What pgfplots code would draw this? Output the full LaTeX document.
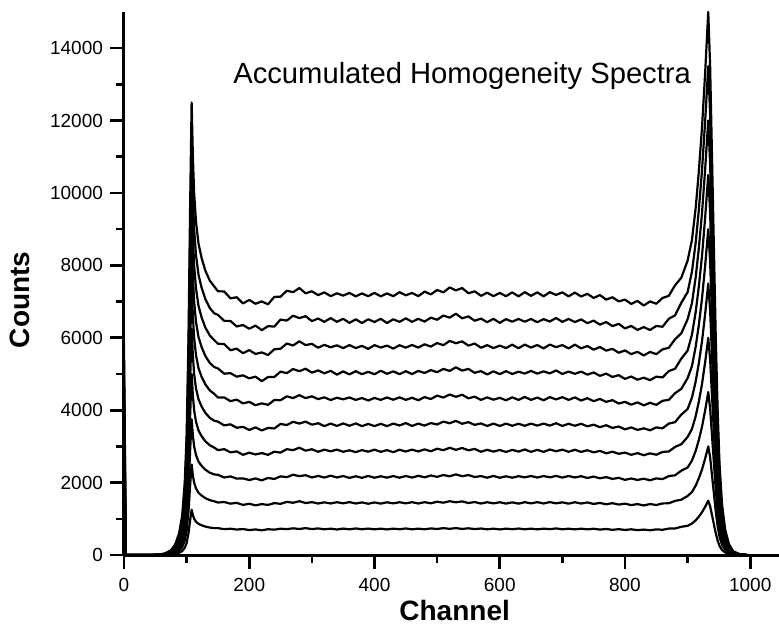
\documentclass[border=0pt]{standalone}
\usepackage{pgfplots}
\usepackage{pgfplotstable}
\pgfplotsset{compat=1.18}
\usepackage{fontspec}
\setmainfont{Liberation Sans}

\pgfplotstableread{
x y1 y2 y3 y4 y5 y6 y7 y8 y9 y10
0 586 1172 1758 2344 2930 3516 4102 4688 5274 5860
3 0 0 0 0 0 0 0 0 0 0
20 0 0 0 0 0 0 0 0 0 0
45 0 1 1 1 2 2 2 2 3 3
55 1 2 3 4 5 6 7 8 9 10
65 4 8 12 16 20 24 28 32 36 40
75 13 26 39 52 65 78 91 104 117 130
82 30 60 90 120 150 180 210 240 270 300
88 60 120 180 240 300 360 420 480 540 600
93 110 220 330 440 550 660 770 880 990 1100
97 200 400 600 800 1000 1200 1400 1600 1800 2000
100 330 660 990 1320 1650 1980 2310 2640 2970 3300
103 600 1200 1800 2400 3000 3600 4200 4800 5400 6000
105.5 950 1900 2850 3800 4750 5700 6650 7600 8550 9500
108 1250 2500 3750 5000 6250 7500 8750 10000 11250 12500
110 1100 2200 3300 4400 5500 6600 7700 8800 9900 11000
112 1000 2000 3000 4000 5000 6000 7000 8000 9000 10000
115 920 1840 2760 3680 4600 5520 6440 7360 8280 9200
119 860 1720 2580 3440 4300 5160 6020 6880 7740 8600
124 820 1640 2460 3280 4100 4920 5740 6560 7380 8200
130 785 1570 2355 3140 3925 4710 5495 6280 7065 7850
137 758 1516 2274 3032 3790 4548 5306 6064 6822 7580
144 742 1484 2226 2968 3710 4452 5194 5936 6678 7420
150 742 1449 2216 2898 3685 4352 5154 5836 6633 7285
160 714 1464 2141 2923 3580 4352 5009 5826 6468 7280
170 726 1418 2172 2836 3610 4249 5023 5657 6466 7090
180 703 1441 2109 2862 3515 4293 4926 5699 6312 7120
190 717 1384 2116 2768 3540 4187 4964 5576 6353 6950
200 690 1415 2070 2825 3455 4230 4880 5660 6250 7045
210 706 1371 2114 2777 3525 4138 4926 5554 6337 6940
220 682 1406 2062 2816 3440 4189 4803 5597 6211 7005
230 712 1384 2129 2767 3510 4148 4916 5524 6322 6925
240 700 1434 2100 2854 3495 4281 4917 5683 6309 7130
250 726 1414 2173 2829 3620 4276 5067 5698 6504 7135
260 714 1468 2150 2924 3590 4384 5023 5842 6476 7300
270 737 1443 2217 2896 3680 4334 5138 5787 6611 7260
280 719 1487 2178 2964 3630 4416 5077 5903 6544 7375
290 743 1436 2204 2882 3685 4333 5146 5799 6597 7230
300 716 1460 2142 2921 3600 4384 5038 5832 6461 7285
310 734 1422 2184 2853 3640 4307 5099 5726 6533 7180
320 710 1455 2140 2910 3560 4355 5020 5805 6440 7255
330 727 1424 2191 2864 3630 4281 5087 5738 6544 7150
340 705 1458 2142 2911 3565 4344 4983 5792 6441 7230
350 730 1428 2182 2852 3635 4300 5070 5715 6525 7165
360 710 1461 2129 2892 3570 4353 4991 5799 6412 7240
370 733 1423 2175 2841 3635 4284 5078 5717 6511 7145
380 711 1452 2131 2898 3560 4337 4994 5776 6408 7225
390 730 1416 2184 2854 3620 4268 5061 5694 6512 7150
400 709 1452 2135 2911 3560 4339 4993 5797 6436 7240
410 728 1420 2175 2850 3625 4285 5090 5730 6525 7145
420 706 1456 2136 2897 3560 4353 5006 5784 6407 7225
430 729 1426 2182 2841 3630 4289 5073 5702 6511 7150
440 712 1458 2135 2908 3578 4355 4995 5795 6440 7260
450 733 1427 2183 2859 3645 4286 5077 5728 6539 7175
460 709 1460 2139 2911 3565 4344 4998 5802 6441 7240
470 728 1422 2188 2860 3630 4275 5085 5730 6525 7150
480 710 1459 2146 2918 3575 4362 5029 5821 6448 7275
490 734 1428 2197 2866 3645 4309 5108 5757 6556 7200
500 719 1472 2159 2936 3605 4402 5049 5856 6498 7320
510 742 1445 2210 2895 3685 4350 5140 5795 6615 7255
520 723 1486 2174 2962 3640 4433 5086 5914 6557 7390
530 743 1455 2227 2905 3705 4370 5185 5850 6665 7310
540 720 1482 2176 2956 3625 4427 5094 5901 6538 7375
550 738 1436 2209 2892 3670 4328 5141 5784 6592 7230
560 716 1463 2154 2931 3595 4374 5033 5842 6471 7285
570 732 1422 2180 2852 3635 4285 5080 5725 6530 7160
580 709 1458 2135 2906 3565 4354 4988 5797 6431 7245
590 728 1426 2185 2855 3630 4290 5075 5715 6525 7150
600 706 1458 2134 2902 3565 4343 4996 5784 6412 7240
610 729 1420 2175 2846 3630 4274 5078 5717 6516 7150
620 712 1455 2135 2905 3570 4355 5000 5810 6445 7255
630 731 1418 2177 2856 3625 4284 5063 5712 6521 7145
640 711 1460 2145 2916 3570 4366 5012 5813 6444 7260
650 728 1425 2182 2850 3630 4285 5085 5730 6520 7160
660 708 1460 2140 2905 3575 4350 5010 5800 6430 7255
670 729 1423 2182 2848 3630 4274 5073 5707 6516 7145
680 713 1462 2145 2914 3575 4361 5017 5813 6449 7260
690 734 1426 2186 2866 3640 4297 5099 5741 6548 7185
700 710 1455 2138 2910 3565 4360 5000 5800 6440 7255
710 727 1418 2182 2851 3625 4284 5068 5707 6521 7145
720 708 1458 2142 2908 3570 4355 5005 5810 6435 7250
730 728 1421 2176 2847 3625 4268 5066 5709 6507 7140
740 708 1452 2128 2894 3555 4331 4982 5773 6404 7215
750 726 1410 2167 2836 3600 4249 5043 5672 6476 7100
760 702 1439 2118 2876 3530 4312 4949 5746 6363 7180
770 718 1400 2152 2810 3585 4230 5010 5645 6435 7055
780 695 1432 2101 2853 3510 4277 4919 5696 6323 7120
790 714 1393 2132 2796 3550 4184 4968 5587 6386 7005
800 692 1420 2075 2830 3470 4230 4865 5650 6260 7055
810 710 1378 2114 2767 3525 4153 4931 5549 6327 6935
820 686 1407 2073 2814 3455 4216 4842 5613 6219 7020
830 702 1368 2107 2756 3500 4134 4898 5512 6296 6890
840 683 1408 2065 2808 3445 4205 4830 5610 6215 7005
850 708 1381 2116 2770 3525 4148 4926 5549 6327 6940
860 697 1425 2097 2845 3500 4260 4905 5680 6305 7100
870 730 1428 2180 2860 3630 4285 5080 5725 6525 7160
880 732 1495 2202 2985 3670 4470 5145 5960 6620 7450
890 780 1528 2330 3060 3880 4590 5425 6125 6970 7660
900 805 1630 2415 3260 4030 4885 5645 6510 7260 8130
907 870 1740 2610 3480 4350 5220 6090 6960 7830 8700
913 960 1920 2880 3840 4800 5760 6720 7680 8640 9600
918 1060 2120 3180 4240 5300 6360 7420 8480 9540 10600
923 1180 2360 3540 4720 5900 7080 8260 9440 10620 11800
928 1330 2660 3990 5320 6650 7980 9310 10640 11970 13300
933 1500 3000 4500 6000 7500 9000 10500 12000 13500 15000
936 1350 2700 4050 5400 6750 8100 9450 10800 12150 13500
939 1100 2200 3300 4400 5500 6600 7700 8800 9900 11000
942 850 1700 2550 3400 4250 5100 5950 6800 7650 8500
945 600 1200 1800 2400 3000 3600 4200 4800 5400 6000
948 400 800 1200 1600 2000 2400 2800 3200 3600 4000
951 250 500 750 1000 1250 1500 1750 2000 2250 2500
955 140 280 420 560 700 840 980 1120 1260 1400
960 70 140 210 280 350 420 490 560 630 700
966 30 60 90 120 150 180 210 240 270 300
973 10 20 30 40 50 60 70 80 90 100
982 3 6 9 12 15 18 21 24 27 30
995 0 0 0 0 0 0 0 0 0 0
}\spectra

\begin{document}
\begin{tikzpicture}
\begin{axis}[
  scale only axis,
  width=327.5pt, height=271.5pt,
  xmin=0, xmax=1046, ymin=0, ymax=15000,
  axis x line*=bottom, axis y line*=left,
  axis line style={-, line width=1.5pt},
  xtick={0,200,...,1000}, ytick={0,2000,...,14000},
  minor xtick={100,300,...,900}, minor ytick={1000,3000,...,13000},
  scaled y ticks=false, scaled x ticks=false,
  tick align=outside,
  major tick length=7pt, minor tick length=4pt,
  tick style={black, line width=1.3pt},
  /pgf/number format/assume math mode=true,
  /pgf/number format/set thousands separator={},
  ticklabel style={font=\fontsize{9.5}{11}\selectfont},
  xticklabel style={yshift=-1pt},
  clip=false,
]
\pgfplotsinvokeforeach{1,...,10}{\addplot[black, line width=1.1pt, line join=round, no marks] table[x=x, y=y#1]{\spectra};}
\node[font=\fontsize{14.6}{17}\selectfont] at (axis cs:540,13220) {Accumulated Homogeneity Spectra};
\node[rotate=90, font=\fontsize{14}{16}\selectfont\bfseries] at ([xshift=-52pt]axis cs:0,7050) {Counts};
\node[font=\fontsize{14}{16}\selectfont\bfseries] at ([yshift=-27.5pt]axis cs:528,0) {Channel};
\coordinate (bl) at (rel axis cs:0,0);
\coordinate (tr) at (rel axis cs:1,1);
\end{axis}
\pgfresetboundingbox
\path[use as bounding box] ([xshift=-62pt,yshift=-40.5pt]bl) rectangle ([yshift=6pt]tr);
\end{tikzpicture}
\end{document}
